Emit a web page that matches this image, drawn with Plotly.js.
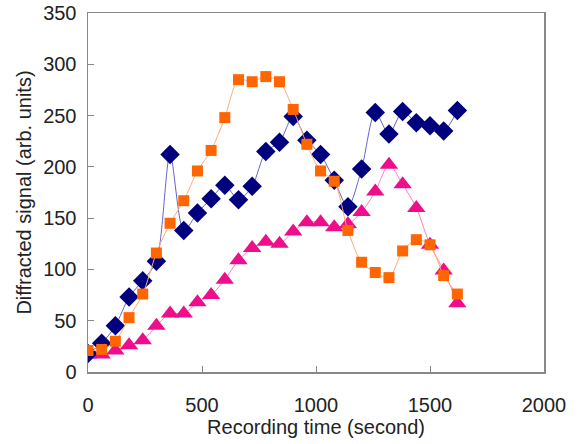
<!DOCTYPE html>
<html>
<head>
<meta charset="utf-8">
<script src="https://cdn.plot.ly/plotly-3.0.1.min.js"></script>
<style>html,body{margin:0;padding:0;background:#fff;}#chart{width:588px;height:444px;}</style>
</head>
<body>
<div id="chart"></div>
<script>
const times = [0, 60, 120, 180, 240, 300, 360, 420, 480, 540, 600, 660, 720, 780, 840, 900, 960, 1020, 1080, 1140, 1200, 1260, 1320, 1380, 1440, 1500, 1560, 1620];
const blueSeries = [18, 28, 45, 73, 89, 108, 212, 138, 155, 169, 182, 168, 181, 215, 224, 249, 226, 212, 187, 161, 198, 253, 232, 254, 243, 240, 235, 255];
const orangeSeries = [21, 22, 30, 53, 76, 116, 145, 167, 196, 216, 248, 285, 283, 288, 283, 256, 222, 196, 186, 138, 107, 97, 92, 118, 129, 124, 94, 76];
const pinkSeries = [17, 17, 21, 26, 31, 45, 57, 57, 68, 75, 90, 109, 121, 127, 125, 137, 146, 146, 141, 144, 156, 176, 202, 183, 160, 124, 99, 67];
const xTicks = [0, 500, 1000, 1500, 2000];
const yTicks = [0, 50, 100, 150, 200, 250, 300, 350];

const font = {family: 'Liberation Sans, Arial, sans-serif', size: 20, color: '#222'};

const traces = [
  {x: times, y: pinkSeries, type: 'scatter', mode: 'lines+markers',
   line: {color: '#ff7fbf', width: 1, shape: 'spline', smoothing: 0.8},
   marker: {symbol: 'triangle-up', size: 16, color: '#ee0d8a'}},
  {x: times, y: blueSeries, type: 'scatter', mode: 'lines+markers',
   line: {color: '#6464c4', width: 1, shape: 'spline', smoothing: 0.8},
   marker: {symbol: 'diamond', size: 15, color: '#00007f'}},
  {x: times, y: orangeSeries, type: 'scatter', mode: 'lines+markers',
   line: {color: '#ffab75', width: 1, shape: 'spline', smoothing: 0.8},
   marker: {symbol: 'square', size: 11, color: '#ff6600'}}
];

const layout = {
  width: 588, height: 444,
  margin: {l: 88, r: 44, t: 13, b: 72},
  paper_bgcolor: '#fff', plot_bgcolor: '#fff',
  showlegend: false,
  font: font,
  xaxis: {
    range: [0, 2000], tickvals: xTicks, ticktext: xTicks.map(String),
    ticks: 'inside', ticklen: 6, tickcolor: '#888', tickwidth: 1,
    showline: true, linecolor: '#888', linewidth: 1.5, mirror: true,
    showgrid: false, zeroline: false, ticklabelstandoff: 14,
    tickfont: font,
    title: {text: 'Recording time (second)', font: font, standoff: 0}
  },
  yaxis: {
    range: [0, 350], tickvals: yTicks, ticktext: yTicks.map(String),
    ticks: 'inside', ticklen: 6, tickcolor: '#888', tickwidth: 1,
    showline: true, linecolor: '#888', linewidth: 1.5, mirror: true,
    showgrid: false, zeroline: false, ticklabelstandoff: 6,
    tickfont: font,
    title: {text: 'Diffracted signal (arb. units)', font: font, standoff: 6}
  }
};

Plotly.newPlot('chart', traces, layout, {displayModeBar: false, staticPlot: true});
</script>
</body>
</html>
